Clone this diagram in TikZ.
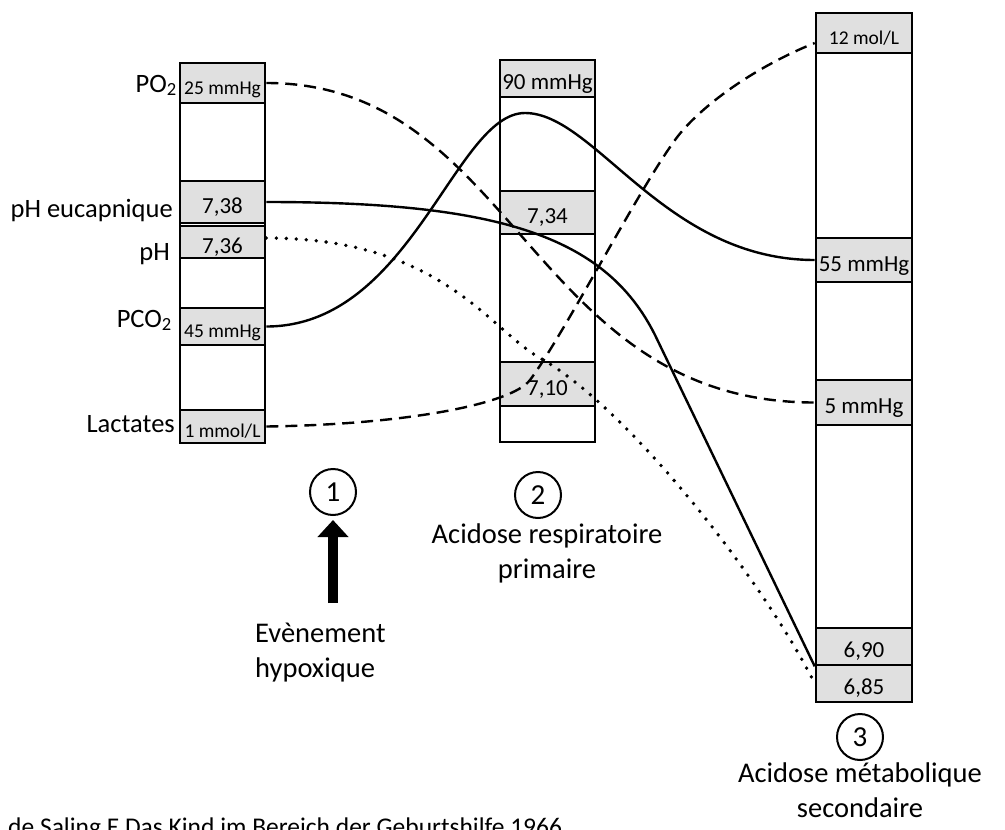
\documentclass[tikz,border=0pt]{standalone}
\usepackage{fontspec}
\setmainfont{Carlito}
\usepackage{tikz}
\usetikzlibrary{arrows.meta,shapes}
\definecolor{cellgray}{RGB}{224,224,224}
\tikzstyle{column}=[rectangle,draw=black,line width=2.6pt,fill=white,inner sep=0pt]
\tikzstyle{cell}=[rectangle,draw=black,line width=2.6pt,fill=cellgray,inner sep=0pt,text height=22pt,text depth=0pt,font=\fontsize{23}{27}\selectfont]
\tikzstyle{small}=[font=\fontsize{19.5}{23}\selectfont]
\tikzstyle{tag}=[anchor=base east,inner sep=0pt,font=\fontsize{26.5}{30}\selectfont]
\tikzstyle{stage}=[circle,draw=black,line width=2pt,minimum size=46pt,inner sep=0pt,font=\fontsize{29}{32}\selectfont]
\tikzstyle{caption}=[align=center,inner sep=0pt,font=\fontsize{28.5}{35}\selectfont]
\tikzstyle{solidtrend}=[line width=2.4pt]
\tikzstyle{dashtrend}=[line width=2.4pt,dash pattern=on 12pt off 7pt]
\tikzstyle{dottrend}=[line width=3.8pt,line cap=round,dash pattern=on 0pt off 10pt]

\begin{document}
\begin{tikzpicture}[x=1pt,y=-1pt]
        \useasboundingbox (0,0) rectangle (1005,830);

        % columns
        \node at (222.5,253) [column,minimum width=85pt,minimum height=380pt] (col1) {};
        \node at (547.5,251) [column,minimum width=95pt,minimum height=382pt] (col2) {};
        \node at (864,357.5) [column,minimum width=96pt,minimum height=689pt] (col3) {};

        % cells, column 1
        \node at (222.5,83)    [cell,small,minimum width=85pt,minimum height=40pt] (c1po2)  {25 mmHg};
        \node at (222.5,202)   [cell,minimum width=85pt,minimum height=42pt]       (c1euc)  {7,38};
        \node at (222.5,242)   [cell,minimum width=85pt,minimum height=32pt]       (c1ph)   {7,36};
        \node at (222.5,326.5) [cell,small,minimum width=85pt,minimum height=37pt] (c1pco2) {45 mmHg};
        \node at (222.5,426.5) [cell,small,minimum width=85pt,minimum height=33pt] (c1lact) {1 mmol/L};

        % cells, column 2
        \node at (547.5,78.5)  [cell,minimum width=95pt,minimum height=37pt] (c2po2)  {90 mmHg};
        \node at (547.5,212.5) [cell,minimum width=95pt,minimum height=43pt] (c2ph)   {7,34};
        \node at (547.5,384)   [cell,minimum width=95pt,minimum height=44pt] (c2lact) {7,10};

        % cells, column 3
        \node at (864,33)    [cell,small,minimum width=96pt,minimum height=40pt] (c3lact) {12 mol/L};
        \node at (864,260)   [cell,minimum width=96pt,minimum height=44pt]       (c3pco2) {55 mmHg};
        \node at (864,402.5) [cell,minimum width=96pt,minimum height=45pt]       (c3po2)  {5 mmHg};
        \node at (864,646.5) [cell,minimum width=96pt,minimum height=37pt]       (c3a)    {6,90};
        \node at (864,683.5) [cell,minimum width=96pt,minimum height=37pt]       (c3b)    {6,85};

        % row labels
        \node at (177,92)  [tag] (lpo2)  {PO\textsubscript{2}};
        \node at (173,217) [tag] (leuc)  {pH eucapnique};
        \node at (170,260) [tag] (lph)   {pH};
        \node at (172,327) [tag] (lpco2) {PCO\textsubscript{2}};
        \node at (175,432) [tag] (llact) {Lactates};

        % trends
        \draw [dashtrend] (c1po2.east) .. controls +(250,0) and +(-285,0) .. (c3po2.west);
        \draw [solidtrend] (c1euc.east) .. controls +(230,0) and +(-50,-100) .. (655,335) -- (c3a.south west);
        \draw [dottrend] ([yshift=4pt]c1ph.east) .. controls +(175,0) and +(-50,-28) .. (540,358)
              .. controls +(87,49) and +(-54,-107) .. (c3b.west);
        \draw [solidtrend] (c1pco2.east) .. controls +(145,0) and +(-70,0) .. (525,113)
              .. controls +(70,0) and +(-150,0) .. (c3pco2.west);
        \draw [dashtrend] (c1lact.east) .. controls +(140,-2) and +(-18,24) .. (530,380)
              .. controls +(36,-48) and +(-33,37) .. (683,130)
              .. controls +(33,-37) and +(-45,18) .. ([yshift=-10pt]c3lact.west);

        % stages
        \node at (333,492) [stage] (n1) {1};
        \node at (538,495) [stage] (n2) {2};
        \node at (860,737) [stage] (n3) {3};
        \coordinate (evbase) at (333,603);
        \draw [line width=10pt,-{Triangle[width=30pt,length=17pt]},shorten >=4pt] (evbase) -- (n1.south);

        \node at (255,677) [caption,align=left,anchor=base west] (cap1) {Evènement\\hypoxique};
        \node at (547,578) [caption,anchor=base] (cap2) {Acidose respiratoire\\primaire};
        \node at (860,817) [caption,anchor=base] (cap3) {Acidose métabolique\\secondaire};

        \node at (8,835) [anchor=base west,inner sep=0pt,font=\fontsize{25.5}{30}\selectfont] (src) {de Saling E Das Kind im Bereich der Geburtshilfe 1966};
      \end{tikzpicture}
\end{document}
